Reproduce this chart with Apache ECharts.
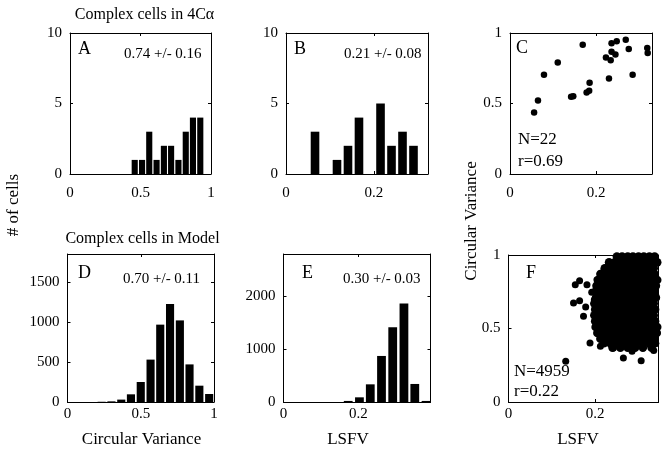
<!DOCTYPE html>
<html><head><meta charset="utf-8">
<script src="https://cdn.jsdelivr.net/npm/echarts@6/dist/echarts.min.js"></script>
<style>html,body{margin:0;padding:0;background:#fff}#c{width:662px;height:456px}</style>
</head><body><div id="c"></div>
<script>
// ---------- data ----------
const histA_bins = [0.459,0.511,0.562,0.614,0.666,0.717,0.769,0.821,0.872,0.924];
const histA_counts = [1,1,3,1,2,2,1,3,4,4];
const histA_binWidth = 0.0517;

const histB_bins = [0.066,0.091,0.116,0.141,0.166,0.190,0.215,0.240,0.265,0.290];
const histB_counts = [3,0,1,2,4,0,5,2,3,2];
const histB_binWidth = 0.0248;

const scatC_lsfv = [0.056,0.065,0.079,0.111,0.142,0.147,0.169,0.178,0.184,0.185,0.223,0.230,0.234,0.236,0.236,0.245,0.248,0.269,0.276,0.285,0.319,0.320];
const scatC_cv   = [0.436,0.521,0.704,0.791,0.548,0.552,0.917,0.578,0.590,0.647,0.827,0.678,0.806,0.867,0.927,0.848,0.941,0.953,0.886,0.704,0.893,0.858];

const histD_bins = [0.233,0.300,0.367,0.433,0.500,0.567,0.633,0.700,0.767,0.833,0.900,0.967];
const histD_counts = [3,8,30,96,250,530,967,1225,1020,470,204,100];
const histD_binWidth = 0.0667;

const histE_bins = [0.173,0.203,0.232,0.262,0.292,0.322,0.351,0.381];
const histE_counts = [20,88,333,868,1409,1855,340,20];
const histE_binWidth = 0.0297;

// Panel F: outlying cells
const scatF_outLsfv = [0.132,0.154,0.164,0.181,0.150,0.164,0.178,0.173,0.192,0.198,0.218,0.231,0.204,0.188,0.212,0.265,0.306,0.335,0.242,0.285];
const scatF_outCv   = [0.277,0.798,0.825,0.798,0.673,0.689,0.646,0.583,0.746,0.696,0.882,0.934,0.832,0.401,0.379,0.299,0.281,0.351,0.367,0.345];
// Panel F: dense core, row by row (circular variance of row, LSFV values in row)
const scatF_rowCv = [0.99,0.95,0.91,0.87,0.83,0.79,0.75,0.71,0.67,0.63,0.59,0.55,0.51,0.47,0.43,0.40,0.37];
const scatF_rowLsfv = [
  [0.250,0.262,0.275,0.287,0.300,0.312,0.325,0.337],
  [0.232,0.245,0.257,0.270,0.282,0.295,0.307,0.320,0.332,0.343],
  [0.222,0.235,0.247,0.260,0.272,0.285,0.297,0.310,0.322,0.335],
  [0.212,0.225,0.237,0.250,0.262,0.275,0.287,0.300,0.312,0.325,0.337],
  [0.207,0.220,0.232,0.245,0.257,0.270,0.282,0.295,0.307,0.320,0.332,0.343],
  [0.203,0.215,0.227,0.240,0.252,0.265,0.277,0.290,0.302,0.315,0.327,0.340],
  [0.200,0.212,0.225,0.237,0.250,0.262,0.275,0.287,0.300,0.312,0.325,0.337],
  [0.202,0.215,0.227,0.240,0.252,0.265,0.277,0.290,0.302,0.315,0.327,0.340],
  [0.198,0.210,0.222,0.235,0.247,0.260,0.272,0.285,0.297,0.310,0.322,0.335],
  [0.200,0.213,0.225,0.238,0.250,0.263,0.275,0.288,0.300,0.313,0.325,0.338],
  [0.198,0.210,0.222,0.235,0.247,0.260,0.272,0.285,0.297,0.310,0.322,0.335],
  [0.200,0.213,0.225,0.238,0.250,0.263,0.275,0.288,0.300,0.313,0.325,0.338],
  [0.201,0.212,0.224,0.236,0.248,0.260,0.272,0.284,0.296,0.308,0.320,0.332,0.343],
  [0.205,0.218,0.230,0.243,0.255,0.268,0.280,0.293,0.305,0.318,0.330,0.342],
  [0.212,0.225,0.237,0.250,0.262,0.275,0.287,0.300,0.312,0.325,0.337],
  [0.220,0.235,0.250,0.265,0.280,0.295,0.310,0.325,0.338],
  [0.240,0.258,0.275,0.292,0.310,0.330]
];

// tick values per panel
const ticksA_x = [0,0.5,1],   ticksA_y = [0,5,10];
const ticksB_x = [0,0.2],     ticksB_y = [0,5,10];
const ticksC_x = [0,0.2],     ticksC_y = [0,0.5,1];
const ticksD_x = [0,0.5,1],   ticksD_y = [0,500,1000,1500];
const ticksE_x = [0,0.2],     ticksE_y = [0,1000,2000];
const ticksF_x = [0,0.2],     ticksF_y = [0,0.5,1];

// ---------- chart ----------
const FONT = "'Liberation Serif','Times New Roman',serif";
const panels = [
  {grid:{left:70,  top:33,  width:141,   height:141}, x:[0,1],     y:[0,10],   tx:ticksA_x, ty:ticksA_y, lm:12},
  {grid:{left:286, top:33,  width:142,   height:141}, x:[0,0.323], y:[0,10],   tx:ticksB_x, ty:ticksB_y, lm:12},
  {grid:{left:510, top:33,  width:142,   height:141}, x:[0,0.33],  y:[0,1],    tx:ticksC_x, ty:ticksC_y, lm:12},
  {grid:{left:67.5,top:254, width:146.5, height:148}, x:[0,1],     y:[0,1850], tx:ticksD_x, ty:ticksD_y, lm:5},
  {grid:{left:283.5,top:254,width:147,   height:148}, x:[0,0.393], y:[0,2790], tx:ticksE_x, ty:ticksE_y, lm:5},
  {grid:{left:508.5,top:255,width:150,   height:147}, x:[0,0.346], y:[0,1],    tx:ticksF_x, ty:ticksF_y, lm:5}
];

const grids = [], xAxes = [], yAxes = [];
const line = {show:true, onZero:false, lineStyle:{color:'#000', width:1}};
const plain = v => String(v);
panels.forEach((p, i) => {
  grids.push(Object.assign({containLabel:false}, p.grid));
  const tick = vals => ({show:true, inside:true, length:3, lineStyle:{color:'#000'}, customValues:vals});
  xAxes.push({type:'value', gridIndex:i, position:'bottom', min:p.x[0], max:p.x[1],
    axisLine:line, axisTick:tick(p.tx), splitLine:{show:false},
    axisLabel:{show:true, customValues:p.tx, formatter:plain, margin:p.lm, color:'#000', fontFamily:FONT, fontSize:15}});
  xAxes.push({type:'value', gridIndex:i, position:'top', min:p.x[0], max:p.x[1],
    axisLine:line, axisTick:tick(p.tx), splitLine:{show:false}, axisLabel:{show:false}});
  yAxes.push({type:'value', gridIndex:i, position:'left', min:p.y[0], max:p.y[1],
    axisLine:line, axisTick:tick(p.ty), splitLine:{show:false},
    axisLabel:{show:true, customValues:p.ty, formatter:plain, margin:8, color:'#000', fontFamily:FONT, fontSize:15, padding:[5,0,0,0]}});
  yAxes.push({type:'value', gridIndex:i, position:'right', min:p.y[0], max:p.y[1],
    axisLine:line, axisTick:tick(p.ty), splitLine:{show:false}, axisLabel:{show:false}});
});

function histSeries(ai, centers, counts, binW, frac) {
  return {
    type:'custom', xAxisIndex:ai*2, yAxisIndex:ai*2, silent:true,
    data: centers.map((c, k) => [c, counts[k]]),
    renderItem: function (params, api) {
      const c = api.value(0), v = api.value(1);
      const p0 = api.coord([c - binW*frac/2, 0]);
      const p1 = api.coord([c + binW*frac/2, v]);
      return {type:'rect', shape:{x:p0[0], y:p1[1], width:p1[0]-p0[0], height:p0[1]-p1[1]}, style:{fill:'#000'}};
    }
  };
}
function zip(a, b) { return a.map((v, k) => [v, b[k]]); }
const fCore = [];
scatF_rowCv.forEach((cv, r) => scatF_rowLsfv[r].forEach(x => fCore.push([x, cv])));

const dot = {color:'#000', opacity:1, borderWidth:0};
const series = [
  histSeries(0, histA_bins, histA_counts, histA_binWidth, 0.84),
  histSeries(1, histB_bins, histB_counts, histB_binWidth, 0.79),
  {type:'scatter', xAxisIndex:4, yAxisIndex:4, data:zip(scatC_lsfv, scatC_cv), symbolSize:6.5, itemStyle:dot, silent:true},
  histSeries(3, histD_bins, histD_counts, histD_binWidth, 0.83),
  histSeries(4, histE_bins, histE_counts, histE_binWidth, 0.79),
  {type:'scatter', xAxisIndex:10, yAxisIndex:10, data:fCore, symbolSize:8.6, itemStyle:dot, silent:true},
  {type:'scatter', xAxisIndex:10, yAxisIndex:10, data:zip(scatF_outLsfv, scatF_outCv), symbolSize:7, itemStyle:dot, silent:true}
];

function txt(text, x, y, size, align, rot) {
  return {type:'text', x:x, y:y, rotation:rot||0, silent:true,
    style:{text:text, fill:'#000', font:size+'px '+FONT, align:align||'left', verticalAlign:'middle'}};
}
const graphics = [
  txt('Complex cells in 4C\u03b1', 144.5, 15, 16, 'center'),
  txt('Complex cells in Model', 142.5, 239, 16, 'center'),
  txt('# of cells', 14, 205, 17, 'center', Math.PI/2),
  txt('Circular Variance', 472, 221, 17, 'center', Math.PI/2),
  txt('Circular Variance', 141.5, 440, 17, 'center'),
  txt('LSFV', 348, 440, 17, 'center'),
  txt('LSFV', 578, 440, 17, 'center'),
  txt('A', 78, 49, 18), txt('0.74 +/- 0.16', 124, 54, 15),
  txt('B', 294, 49, 18), txt('0.21 +/- 0.08', 344, 54, 15),
  txt('C', 516, 48, 18), txt('N=22', 518, 140, 17), txt('r=0.69', 518, 162, 17),
  txt('D', 78, 273, 18), txt('0.70 +/- 0.11', 123, 279, 15),
  txt('E', 302, 273, 18), txt('0.30 +/- 0.03', 343, 279, 15),
  txt('F', 526, 273, 18), txt('N=4959', 514, 372, 17), txt('r=0.22', 514, 392, 17)
];

const chart = echarts.init(document.getElementById('c'), null, {renderer:'canvas'});
chart.setOption({
  animation:false, backgroundColor:'#fff',
  grid:grids, xAxis:xAxes, yAxis:yAxes, series:series, graphic:graphics
});
</script></body></html>
